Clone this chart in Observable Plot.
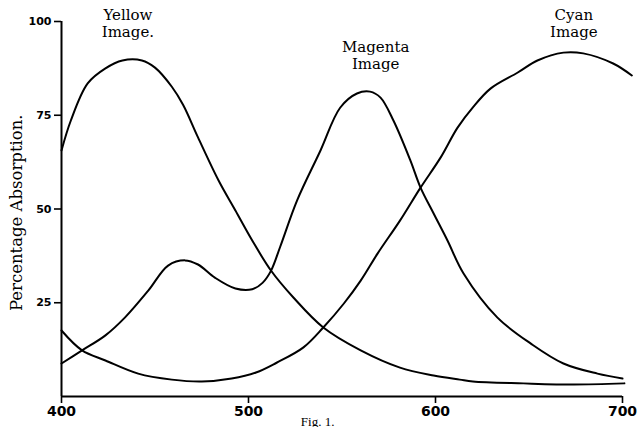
<!DOCTYPE html>
<html><head><meta charset="utf-8">
<script src="https://cdn.jsdelivr.net/npm/d3@7"></script>
<script src="https://cdn.jsdelivr.net/npm/@observablehq/plot@0.6"></script>
<style>body{margin:0;background:#fff} svg{display:block}</style>
</head><body><div id="chart"></div>
<script>
// Wavelength (nm) and percentage absorption
const yellowWl  = [400, 405, 414, 423.5, 432.6, 443, 450, 459, 465, 473, 484, 493, 502, 512, 524, 540, 560, 581, 599, 613, 620, 647, 674, 701];
const yellowPct = [65.6, 73.6, 83.5, 87.5, 89.6, 89.6, 87.7, 82.6, 77.8, 69.1, 57.6, 49.6, 41.6, 33.6, 26.4, 18.4, 12.3, 7.7, 5.6, 4.5, 4.0, 3.5, 3.2, 3.5];

const magentaWl  = [400, 411, 423.5, 434, 446.5, 457, 466, 473, 482, 493, 502, 507.5, 512, 517, 526, 538.5, 549, 558, 565, 570.6, 577.5, 586.6, 592, 599, 606.4, 615, 633, 651, 668.4, 686.6, 700];
const magentaPct = [8.8, 12.3, 16.3, 21.1, 28.3, 34.9, 36.3, 35.2, 31.7, 28.8, 28.6, 30.3, 33.5, 40.0, 52.3, 65.6, 77.0, 80.8, 81.3, 79.7, 73.6, 62.9, 55.7, 48.8, 41.6, 32.8, 21.1, 14.1, 8.8, 6.1, 4.8];

const cyanWl  = [400, 411, 423.5, 441, 459, 475, 491, 504, 515, 529.4, 540, 551, 560, 569, 581, 592, 602.7, 611.8, 620, 629.4, 644, 654.5, 668.4, 679, 695, 705];
const cyanPct = [17.6, 12.3, 9.6, 6.1, 4.5, 4.0, 4.8, 6.4, 9.0, 13.1, 18.4, 24.8, 30.9, 38.1, 46.9, 55.7, 63.7, 71.7, 77.1, 82.1, 86.4, 89.6, 91.7, 91.5, 88.8, 85.6];

const wavelengthTicks = [400, 500, 600, 700];
const pctTicks = [25, 50, 75, 100];

const curveLabels = ["Yellow\nImage.", "Magenta\nImage", "Cyan\nImage"];
const curveLabelWl = [435.5, 568, 674];
const curveLabelPct = [99.7, 91, 99.7];

const yTitle = "Percentage Absorption.";
const caption = "Fig. 1.";

const rows = (name, wl, pct) => wl.map((w, i) => ({series: name, wl: w, pct: pct[i]}));
const data = [
  ...rows("Yellow", yellowWl, yellowPct),
  ...rows("Magenta", magentaWl, magentaPct),
  ...rows("Cyan", cyanWl, cyanPct)
];
const labels = curveLabels.map((t, i) => ({text: t, wl: curveLabelWl[i], pct: curveLabelPct[i]}));

const chart = Plot.plot({
  width: 643, height: 427,
  marginLeft: 61, marginRight: 21, marginTop: 21, marginBottom: 31,
  style: {background: "#fff", color: "#000", overflow: "visible"},
  x: {domain: [400, 700]},
  y: {domain: [0, 100]},
  marks: [
    Plot.ruleX([400], {stroke: "#000", strokeWidth: 2}),
    Plot.ruleY([0], {stroke: "#000", strokeWidth: 2}),
    Plot.axisX({ticks: wavelengthTicks, tickSize: 7, tickPadding: 3, label: null,
      fontSize: 14, fontWeight: "bold", fontFamily: "DejaVu Sans", strokeWidth: 1.6}),
    Plot.axisY({ticks: pctTicks, tickSize: 7, tickPadding: 3, label: null,
      fontSize: 11, fontWeight: "bold", fontFamily: "DejaVu Sans", strokeWidth: 1.6}),
    Plot.line(data, {x: "wl", y: "pct", z: "series", curve: "catmull-rom",
      stroke: "#000", strokeWidth: 2}),
    Plot.text(labels, {x: "wl", y: "pct", text: "text", lineAnchor: "middle",
      fontFamily: "DejaVu Serif", fontSize: 15, lineHeight: 1.15, fill: "#000"}),
    Plot.text([yTitle], {y: 49, frameAnchor: "left", textAnchor: "middle", dx: -45, rotate: -90,
      fontFamily: "DejaVu Serif", fontSize: 16.5, fill: "#000"}),
    Plot.text([caption], {x: 528, frameAnchor: "bottom", dy: 29, textAnchor: "start",
      lineAnchor: "bottom", fontFamily: "Liberation Serif", fontSize: 13, fill: "#000"})
  ]
});
document.getElementById("chart").appendChild(chart);
</script>
</body></html>
